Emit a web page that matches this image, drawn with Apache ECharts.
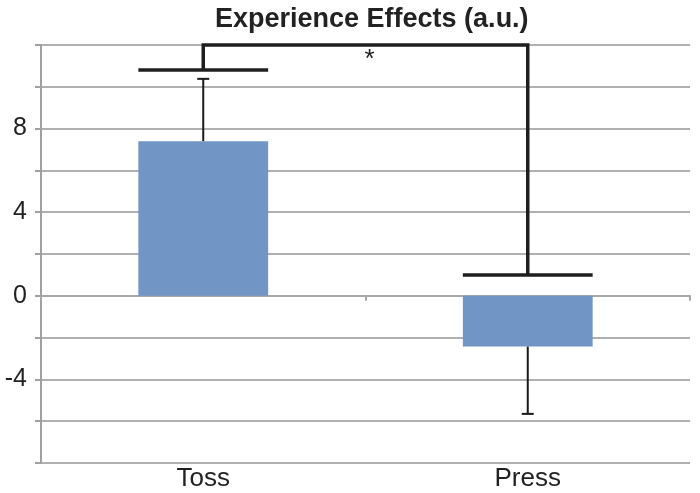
<!DOCTYPE html>
<html><head><meta charset="utf-8">
<script src="https://cdn.jsdelivr.net/npm/echarts@6/dist/echarts.min.js"></script>
<style>html,body{margin:0;padding:0;background:#fff}#c{width:700px;height:493px}</style>
</head><body><div id="c"></div>
<script>
const categories = ['Toss', 'Press'];
const means = [7.4, -2.43];
const errorEnds = [10.38, -5.65];
const bracketEnds = [10.8, 1.0];
const bracketTop = 12;
const starY = 11.3;
const yLabelValues = [8, 4, 0, -4];
const titleText = 'Experience Effects (a.u.)';

const chart = echarts.init(document.getElementById('c'));
const option = {
  animation: false,
  title: {text: titleText, left: 210, top: 1,
    textStyle: {fontFamily: 'Liberation Sans, Arial', fontSize: 27, fontWeight: 'bold', color: '#222'}},
  grid: {left: 41, right: 10, top: 45, bottom: 30},
  xAxis: [{
    type: 'category', data: categories, position: 'bottom',
    axisLine: {show: false, onZero: false}, axisTick: {show: false},
    axisLabel: {fontFamily: 'Liberation Sans, Arial', fontSize: 26, color: '#222', margin: 3}
  }, {
    type: 'category', data: categories, position: 'bottom',
    axisLine: {show: true, onZero: true, lineStyle: {color: '#a8a8a8', width: 2}},
    axisTick: {show: true, length: 5, inside: false, lineStyle: {color: '#a8a8a8', width: 2}},
    axisLabel: {show: false}
  }],
  yAxis: {
    type: 'value', min: -8, max: 12, interval: 2,
    axisLine: {show: true, lineStyle: {color: '#a0a0a0', width: 2}},
    axisTick: {show: true, length: 6, lineStyle: {color: '#a0a0a0', width: 2}},
    splitLine: {show: true, lineStyle: {color: '#b0b0b0', width: 2}},
    axisLabel: {fontFamily: 'Liberation Sans, Arial', fontSize: 25, color: '#222', margin: 14,
      formatter: v => yLabelValues.includes(v) ? String(v) : ''}
  },
  series: [{
    type: 'bar', data: means, barWidth: '40%', xAxisIndex: 0,
    itemStyle: {color: '#7195c4'}
  }, {
    type: 'custom', xAxisIndex: 0, z: 5,
    data: means.map((m, i) => [i, m, errorEnds[i]]),
    renderItem: (params, api) => {
      const p0 = api.coord([api.value(0), api.value(1)]);
      const p1 = api.coord([api.value(0), api.value(2)]);
      const st = {stroke: '#1a1a1a', lineWidth: 2};
      return {type: 'group', children: [
        {type: 'line', shape: {x1: p0[0], y1: p0[1], x2: p1[0], y2: p1[1]}, style: st},
        {type: 'line', shape: {x1: p1[0] - 6, y1: p1[1], x2: p1[0] + 6, y2: p1[1]}, style: st}
      ]};
    }
  }, {
    type: 'custom', xAxisIndex: 0, z: 6,
    data: [[0, bracketEnds[0], 1, bracketEnds[1], bracketTop, starY]],
    renderItem: (params, api) => {
      const a = api.coord([api.value(0), api.value(1)]);
      const b = api.coord([api.value(2), api.value(3)]);
      const ta = api.coord([api.value(0), api.value(4)]);
      const tb = api.coord([api.value(2), api.value(4)]);
      const sy = api.coord([api.value(0), api.value(5)])[1];
      const sx = (ta[0] + tb[0]) / 2 + 4;
      const hw = api.size([1, 0])[0] * 0.4 / 2;
      const st = {stroke: '#1e1e1e', lineWidth: 3.5, fill: null};
      return {type: 'group', children: [
        {type: 'line', shape: {x1: a[0] - hw, y1: a[1], x2: a[0] + hw, y2: a[1]}, style: st},
        {type: 'line', shape: {x1: b[0] - hw, y1: b[1], x2: b[0] + hw, y2: b[1]}, style: st},
        {type: 'polyline', shape: {points: [a, ta, tb, b]}, style: st},
        {type: 'text', x: sx, y: sy, style: {text: '*', fontSize: 26, fontFamily: 'Liberation Sans, Arial',
          fill: '#222', align: 'center', verticalAlign: 'middle'}}
      ]};
    }
  }]
};
chart.setOption(option);
</script></body></html>
